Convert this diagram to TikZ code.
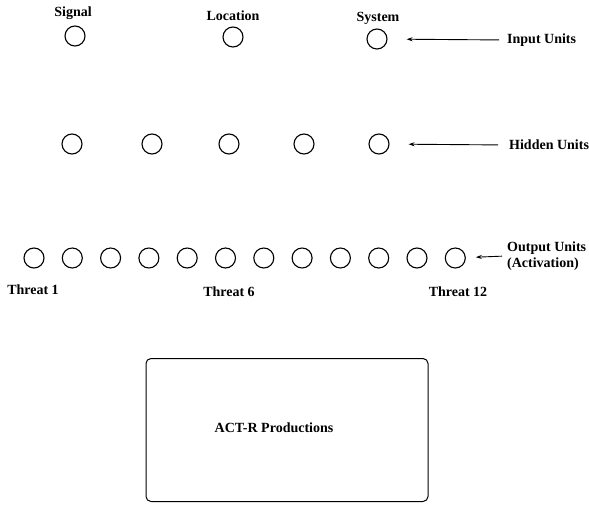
\documentclass[tikz,border=0pt]{standalone}
\usepackage{fontspec}
\setmainfont{Liberation Serif}
\usetikzlibrary{arrows.meta,positioning}

\begin{document}
\begin{tikzpicture}[
      x=1pt, y=-1pt,
      unit/.style={draw, circle, line width=1.1pt, minimum size=20pt, inner sep=0pt},
      lbl/.style={font=\fontsize{14}{16}\selectfont\bfseries, inner sep=1pt},
      side/.style={lbl, align=left, anchor=west},
      arrow/.style={-{Stealth[length=6pt,width=4pt]}, line width=0.9pt}
    ]
    \useasboundingbox (0,0) rectangle (589,506);

    % Input layer
    \node[unit] (in1) at (75,36)  {};
    \node[unit] (in2) at (233,37) {};
    \node[unit] (in3) at (377,39) {};
    \node[lbl] (sig) at (73,13)  {Signal};
    \node[lbl] (loc) at (233,16) {Location};
    \node[lbl] (sys) at (378,18) {System};
    \node[side] (inlab) at (506,40) {Input Units};

    % Hidden layer
    \foreach \i/\x in {1/72,2/152,3/229,4/304,5/379}
      \node[unit] (hid\i) at (\x,144) {};
    \node[side] (hidlab) at (508,145) {Hidden Units};

    % Output layer
    \foreach \i in {1,...,12}
      \node[unit] (out\i) at ({34+(\i-1)*38.3},258) {};
    \node[side] (outlab) at (506,256) {Output Units\\(Activation)};
    \node[lbl] (t1)  at (33,290)  {Threat 1};
    \node[lbl] (t6)  at (229,292) {Threat 6};
    \node[lbl] (t12) at (458,292) {Threat 12};

    \draw[arrow, shorten >=19pt, shorten <=7pt] (inlab.west)  -- (in3);
    \draw[arrow, shorten >=19pt, shorten <=10pt] (hidlab.west) -- (hid5);
    \draw[arrow, shorten >=10pt, shorten <=4pt] (outlab.west) -- (out12);

    % Production box
    \node[draw, rounded corners=5pt, line width=1pt, minimum width=282pt,
          minimum height=143pt] (prod) at (287,430) {};
    \node[lbl] (prodlab) at (274,428) {ACT-R Productions};
\end{tikzpicture}
\end{document}
